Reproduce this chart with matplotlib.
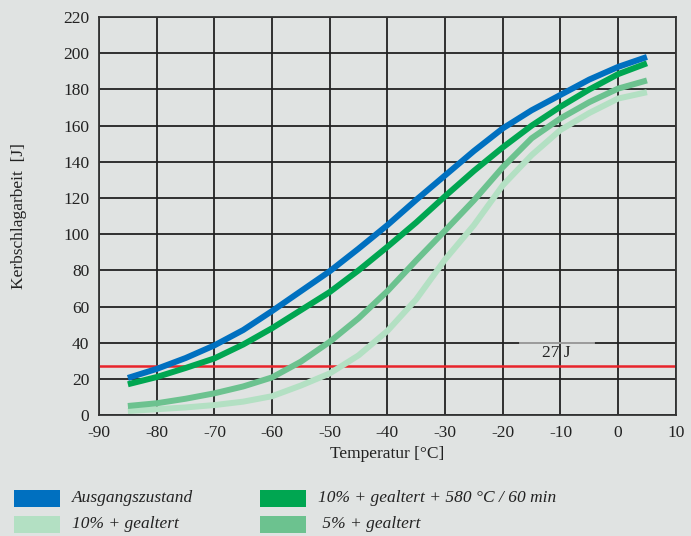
import numpy as np
import matplotlib
matplotlib.use("Agg")
import matplotlib.pyplot as plt
from matplotlib.patches import Rectangle

# values (temperature in °C, impact energy in J)
temp = [-85, -80, -75, -70, -65, -60, -55, -50, -45, -40, -35, -30, -25, -20, -15, -10, -5, 0, 5]
ausgang = [20.5, 25.5, 31.5, 38.5, 47, 57.5, 68.5, 79.5, 92, 105, 119, 132.5, 146, 158.5, 168.5, 177, 185.5, 192.5, 198]
geal_580 = [17, 21, 26, 31.3, 39, 48, 58, 68, 80, 93, 106.5, 121, 135, 148, 160, 170.5, 180, 188.5, 194.5]
geal_5 = [5, 6.5, 9, 12, 15.8, 20.8, 29.5, 40.5, 53.5, 68.5, 85.5, 102, 118.7, 137, 153, 164, 173, 180.5, 185]
geal_10 = [2.2, 3.2, 4.2, 5.5, 7.4, 10.4, 16.3, 23, 33, 46.5, 64, 86, 105, 127, 143.7, 157.6, 167, 175, 178.5]
limit_27 = 27

labels = ["Ausgangszustand", "10% + gealtert + 580 °C / 60 min", "10% + gealtert", " 5% + gealtert"]
colors = ["#0070c0", "#00a651", "#b3e0c3", "#6cc28f"]

bg = "#e0e3e2"
plt.rcParams['font.family'] = ['Liberation Serif', 'DejaVu Serif']
plt.rcParams['axes.unicode_minus'] = False

fig = plt.figure(figsize=(6.91, 5.36), dpi=100, facecolor=bg)
ax = fig.add_axes([0.1433, 0.2257, 0.8347, 0.7423], facecolor=bg)

ax.set_xlim(-90, 10)
ax.set_ylim(0, 220)
ax.set_xticks(np.arange(-90, 11, 10))
ax.set_yticks(np.arange(0, 221, 20))
ax.tick_params(length=0, labelsize=12.5, colors="#222222", pad=7)
ax.grid(True, color="#222222", lw=1.3)
ax.set_axisbelow(True)
for s in ax.spines.values():
    s.set_color("#333333")
    s.set_linewidth(1.3)

# draw order: lightest at back
ax.plot(temp, geal_10, color=colors[2], lw=4.3, solid_capstyle="butt", solid_joinstyle="round", zorder=3)
ax.plot(temp, geal_5, color=colors[3], lw=4.3, solid_capstyle="butt", solid_joinstyle="round", zorder=3)
ax.plot(temp, geal_580, color=colors[1], lw=4.3, solid_capstyle="butt", solid_joinstyle="round", zorder=4)
ax.plot(temp, ausgang, color=colors[0], lw=4.3, solid_capstyle="butt", solid_joinstyle="round", zorder=5)

ax.axhline(limit_27, color="#e8242b", lw=1.8, zorder=2.5)
ax.plot([-17, -4.2], [40, 40], color="#a8a8a8", lw=1.3, zorder=2.6)
ax.text(-10.7, 34.5, "27 J", fontsize=12.5, ha="center", va="center", color="#222222", zorder=6)

ax.set_xlabel("Temperatur [°C]", fontsize=12.5, color="#222222", labelpad=4)
ax.set_ylabel("Kerbschlagarbeit  [J]", fontsize=12.5, color="#222222", labelpad=26)

# legend below the chart
W, H = 691.0, 536.0
legend_pos = [(14, 498, 0), (260, 498, 1), (14, 524, 2), (260, 524, 3)]
for px, py, i in legend_pos:
    fig.patches.append(Rectangle((px / W, 1 - (py + 8.5) / H), 46 / W, 17 / H,
                                 transform=fig.transFigure, facecolor=colors[i],
                                 edgecolor="none"))
    fig.text((px + 58) / W, 1 - py / H, labels[i], fontsize=12.5, style="italic",
             va="center", ha="left", color="#222222")

fig.savefig("out.png", dpi=100, facecolor=bg)
